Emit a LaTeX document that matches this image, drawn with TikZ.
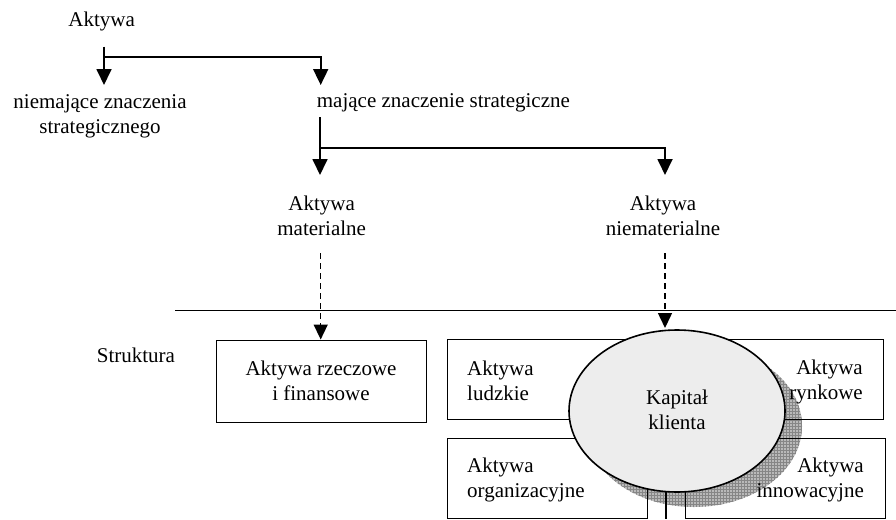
\documentclass[tikz,border=0pt]{standalone}
\usepackage{fontspec}
\setmainfont{Liberation Serif}
\usetikzlibrary{arrows.meta,patterns,shapes.geometric}
\begin{document}
\begin{tikzpicture}[x=1pt,y=-1pt,
  txt/.style={inner sep=0pt, font=\fontsize{21}{24.5}\selectfont},
  box/.style={draw, line width=1pt, inner sep=0pt},
  conn/.style={line width=1.8pt},
  arr/.style={conn, -{Triangle[width=15pt,length=16pt]}},
  darr/.style={line width=1.5pt, dash pattern=on 6pt off 4pt, -{Triangle[width=14pt,length=15pt]}},
]
\useasboundingbox (0,0) rectangle (896,519);

% --- top texts (base anchor = baseline of the last line)
\node[txt, anchor=base] (akt) at (101.7,26.7) {Aktywa};
\node[txt, anchor=base, align=center] (niem) at (100,133) {niemające znaczenia\\strategicznego};
\node[txt, anchor=base west] (maj) at (316.7,107) {mające znaczenie strategiczne};
\node[txt, anchor=base, align=center] (mat) at (321.7,235) {Aktywa\\materialne};
\node[txt, anchor=base, align=center] (niemat) at (663,235) {Aktywa\\niematerialne};
\node[txt, anchor=base west] (str) at (96.7,362) {Struktura};

% --- connectors at top
\coordinate (s1) at (104,46.7);
\coordinate (k1) at (104,56.7);
\coordinate (e1) at (104,85);
\coordinate (e2) at (320.7,85);
\draw[arr] (s1) -- (e1);
\draw[arr] (k1) -| (e2);

\coordinate (s2) at (320,117);
\coordinate (k2) at (320,148.3);
\coordinate (e3) at (320,175);
\coordinate (e4) at (665,175);
\draw[arr] (s2) -- (e3);
\draw[arr] (k2) -| (e4);

% --- separating line
\coordinate (h1) at (175,310.5);
\coordinate (h2) at (896,310.5);
\draw[conn] (h1) -- (h2);

% --- shadow of the ellipse
\fill[gray!55] (694,426) ellipse [x radius=108pt, y radius=81pt];
\fill[pattern=grid, pattern color=gray!95] (694,426) ellipse [x radius=108pt, y radius=81pt];

% --- boxes
\node[box, minimum width=210pt, minimum height=82pt] (rz) at (321,381) {};
\node[box, minimum width=200pt, minimum height=80pt] (lu) at (547,379) {};
\node[box, minimum width=198pt, minimum height=80pt] (ry) at (784,379) {};
\node[box, minimum width=200pt, minimum height=80pt] (or) at (547,478) {};
\node[box, minimum width=200pt, minimum height=80pt] (in) at (785,478) {};

\node[txt, anchor=base, align=center] (trz) at (321,400) {Aktywa rzeczowe\\i finansowe};
\node[txt, anchor=base west, align=left] (tlu) at (467,400) {Aktywa\\ludzkie};
\node[txt, anchor=base east, align=right] (try) at (863,399) {Aktywa\\rynkowe};
\node[txt, anchor=base west, align=left] (tor) at (467,497) {Aktywa\\organizacyjne};
\node[txt, anchor=base east, align=right] (tin) at (864,497) {Aktywa\\innowacyjne};

% --- ellipse
\node[ellipse, draw, line width=1.6pt, fill=gray!14, minimum width=216pt, minimum height=162pt, inner sep=0pt] (kap) at (677,411) {};
\node[txt, anchor=base, align=center] (tkap) at (677,429) {Kapitał\\klienta};

% --- dashed arrows
\coordinate (d1) at (320.7,253);
\coordinate (d2) at (665,253);
\coordinate (d2e) at (665,328);
\draw[darr] (d1) -- (d1 |- rz.north);
\draw[darr] (d2) -- (d2e);

% --- line below the ellipse
\coordinate (b1) at (666,491);
\coordinate (b2) at (666,519);
\draw[conn] (b1) -- (b2);
\end{tikzpicture}
\end{document}
